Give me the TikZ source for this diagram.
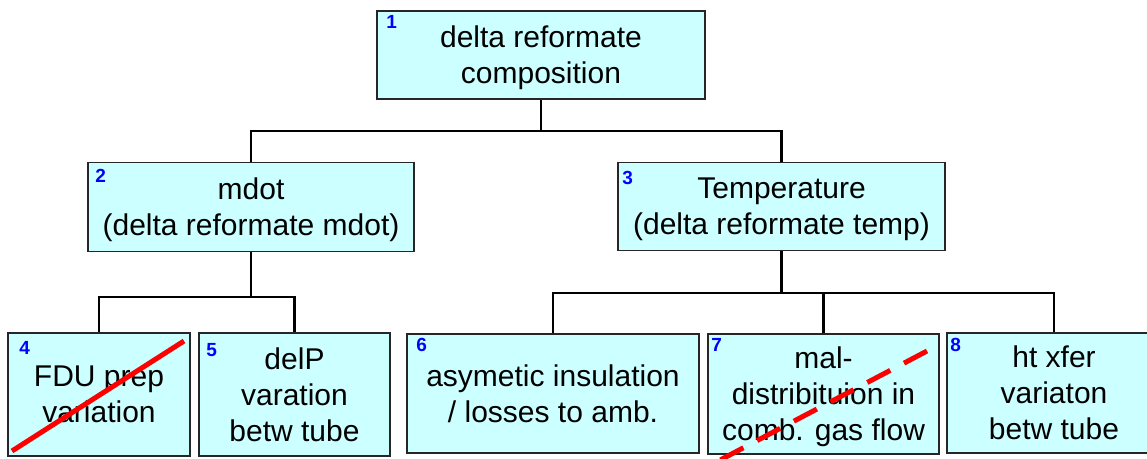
\documentclass[tikz,border=0pt]{standalone}
\usepackage{fontspec}
\setmainfont{Liberation Sans}
\definecolor{boxfill}{RGB}{204,255,255}
\definecolor{numblue}{RGB}{0,0,255}
\definecolor{crossred}{RGB}{255,0,0}
\begin{document}
\begin{tikzpicture}[x=1pt,y=-1pt,
  box/.style={draw=black!85, line width=1.8pt, fill=boxfill, align=center,
    font=\fontsize{30}{36}\selectfont, inner sep=0pt, text depth=0pt},
  num/.style={font=\bfseries\fontsize{19}{19}\selectfont, text=numblue,
    inner sep=0pt, anchor=north west},
  link/.style={line width=2.2pt, draw=black},
  cross/.style={line width=5pt, draw=crossred}]
\useasboundingbox (0,0) rectangle (1147,458);

\node[box, minimum width=328pt, minimum height=88pt] (b1) at (541,55) {delta reformate\\composition};
\node[box, minimum width=326pt, minimum height=89pt] (b2) at (251,207) {mdot\\(delta reformate mdot)};
\node[box, minimum width=327pt, minimum height=88pt] (b3) at (781.5,206.5) {Temperature\\(delta reformate temp)};
\node[box, minimum width=182pt, minimum height=123pt] (b4) at (99,394.5) {FDU prep\\variation};
\node[box, minimum width=191pt, minimum height=123pt] (b5) at (294.5,394.5) {delP\\varation\\betw tube};
\node[box, minimum width=292pt, minimum height=119pt] (b6) at (553,393.5) {asymetic insulation\\/ losses to amb.};
\node[box, minimum width=231pt, minimum height=120pt] (b7) at (823.5,394) {mal-\\distribituion in\\comb. gas flow};
\node[box, minimum width=214pt, minimum height=120pt] (b8) at (1054,393) {ht xfer\\variaton\\betw tube};

\node[num] (n1) at ([shift={(10,5)}]b1.north west) {1};
\node[num] (n2) at ([shift={(8,7)}]b2.north west) {2};
\node[num] (n3) at ([shift={(5,9)}]b3.north west) {3};
\node[num] (n4) at ([shift={(12,9)}]b4.north west) {4};
\node[num] (n5) at ([shift={(8,11)}]b5.north west) {5};
\node[num] (n6) at ([shift={(10,5)}]b6.north west) {6};
\node[num] (n7) at ([shift={(4,5)}]b7.north west) {7};
\node[num] (n8) at ([shift={(4,6)}]b8.north west) {8};

\coordinate (j1) at (541,131);
\coordinate (j2) at (251,297);
\coordinate (j3) at (781.5,293);
\draw[link] (b1.south) -- (j1);
\draw[link] (b2.north) |- (j1) -| (b3.north);
\draw[link] (b2.south) -- (j2);
\draw[link] (b4.north) |- (j2) -| (b5.north);
\draw[link] (b3.south) -- (j3);
\draw[link] (b6.north) |- (j3) -| (b8.north);
\draw[link] (b7.north) -- (b7.north |- j3);

\coordinate (c4a) at (184,341);
\coordinate (c4b) at (12,451);
\draw[cross] (c4a) -- (c4b);
\coordinate (c7a) at (927,351);
\coordinate (c7b) at (705,468);
\draw[cross, dash pattern=on 26pt off 15.5pt] (c7a) -- (c7b);
\end{tikzpicture}
\end{document}
